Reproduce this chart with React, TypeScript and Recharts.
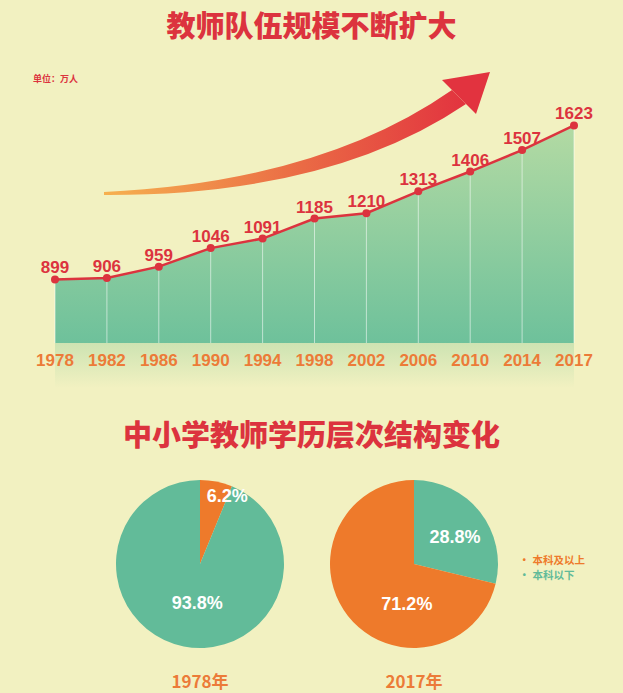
import { AreaChart, Area, XAxis, YAxis, LabelList, PieChart, Pie, Cell, Legend } from "recharts";

const years = ["1978", "1982", "1986", "1990", "1994", "1998", "2002", "2006", "2010", "2014", "2017"];
const teachers = [899, 906, 959, 1046, 1091, 1185, 1210, 1313, 1406, 1507, 1623];

const eduLevels = ["本科及以上", "本科以下"];
const share1978 = [6.2, 93.8];
const share2017 = [71.2, 28.8];

const areaData = years.map((y, i) => ({ year: y, value: teachers[i] }));
const pie1978 = eduLevels.map((name, i) => ({ name, value: share1978[i] }));
// 2017 pie starts with the green slice at 12 o'clock
const pie2017 = [1, 0].map((i) => ({ name: eduLevels[i], value: share2017[i] }));

const BG = "#f2f1c1";
const RED = "#dc333e";
const ORANGE = "#ee7a2b";
const GREEN = "#62bb99";
const LEVEL_COLORS: Record<string, string> = { 本科及以上: ORANGE, 本科以下: GREEN };

const LATIN = "'Liberation Sans', Arial, sans-serif";
const CJK = "'Noto Sans CJK SC', sans-serif";

const CHART_W = 623;
const CHART_H = 400;
const MARGIN = { top: 109, right: 49, bottom: 27, left: 55 };
const PLOT_BOTTOM = CHART_H - MARGIN.bottom - 30;

const YearTick = ({ x, y, payload }: any) => (
  <text x={x} y={y + 23} textAnchor="middle" fill="#ec7b38" fontSize={17} fontWeight="bold" fontFamily={LATIN}>
    {payload.value}
  </text>
);

const Dot = ({ cx, cy, index }: any) => (
  <g key={`dot-${index}`}>
    <line x1={cx} y1={cy} x2={cx} y2={PLOT_BOTTOM} stroke="#ffffff" strokeOpacity={0.55} strokeWidth={1} />
    <circle cx={cx} cy={cy} r={4} fill={RED} />
  </g>
);

// polar placement of each pie label (degrees, px from centre)
const labelPos1978 = [
  { a: 68, r: 73 },
  { a: -94, r: 39 },
];
const labelPos2017 = [
  { a: 33, r: 49 },
  { a: -100, r: 41 },
];

const makeLabel = (pos: { a: number; r: number }[]) => (props: any) => {
  const p = pos[props.index];
  const rad = (p.a * Math.PI) / 180;
  const x = props.cx + p.r * Math.cos(rad);
  const y = props.cy - p.r * Math.sin(rad);
  return (
    <text
      key={`lbl-${props.index}`}
      x={x}
      y={y}
      textAnchor="middle"
      dominantBaseline="central"
      fill="#ffffff"
      fontSize={18}
      fontWeight="bold"
      fontFamily={LATIN}
    >
      {`${props.value}%`}
    </text>
  );
};

const LegendContent = () => (
  <div style={{ fontFamily: CJK, fontWeight: 700, fontSize: 10.5, lineHeight: "15px" }}>
    {eduLevels.map((name) => (
      <div key={name} style={{ color: LEVEL_COLORS[name] }}>
        <span style={{ marginRight: 3 }}>•</span>
        {name}
      </div>
    ))}
  </div>
);

export default function App() {
  return (
    <div style={{ position: "absolute", left: 0, top: 0, width: 623, height: 693, background: BG, overflow: "hidden" }}>
      <div
        style={{
          position: "absolute",
          top: 4,
          width: "100%",
          textAlign: "center",
          color: RED,
          fontFamily: CJK,
          fontWeight: 900,
          fontSize: 29,
          lineHeight: "40px",
        }}
      >
        教师队伍规模不断扩大
      </div>
      <div style={{ position: "absolute", left: 33, top: 72, color: RED, fontFamily: CJK, fontWeight: 700, fontSize: 9 }}>
        单位：万人
      </div>

      {/* faded reflection under the area */}
      <div
        style={{
          position: "absolute",
          left: 55,
          top: 343,
          width: 519,
          height: 45,
          background: "linear-gradient(to bottom, rgba(160,210,160,0.45), rgba(160,210,160,0))",
        }}
      />

      {/* growth arrow */}
      <svg width={623} height={400} style={{ position: "absolute", left: 0, top: 0 }}>
        <defs>
          <linearGradient id="arrowGrad" x1="0" y1="0" x2="1" y2="0">
            <stop offset="0%" stopColor="#f6b14f" />
            <stop offset="55%" stopColor="#ea6a45" />
            <stop offset="100%" stopColor="#e2333f" />
          </linearGradient>
        </defs>
        <path d="M104,195 Q330,196 466,104 L452,90 Q320,182 104,192 Z" fill="url(#arrowGrad)" />
        <polygon points="442,80 490,72 476,114" fill="#e2333f" />
      </svg>

      <div style={{ position: "absolute", left: 0, top: 0 }}>
        <AreaChart width={CHART_W} height={CHART_H} data={areaData} margin={MARGIN}>
          <defs>
            <linearGradient id="areaGrad" x1="0" y1="0" x2="0" y2="1">
              <stop offset="0%" stopColor="#b3daa3" />
              <stop offset="100%" stopColor="#6ec19b" />
            </linearGradient>
          </defs>
          <XAxis
            dataKey="year"
            axisLine={false}
            tickLine={false}
            tickSize={0}
            tickMargin={0}
            height={30}
            interval={0}
            tick={<YearTick />}
          />
          <YAxis hide domain={[600, 1700]} />
          <Area
            type="linear"
            dataKey="value"
            stroke={RED}
            strokeWidth={2.5}
            fill="url(#areaGrad)"
            fillOpacity={1}
            dot={<Dot />}
            activeDot={false}
            isAnimationActive={false}
          >
            <LabelList
              dataKey="value"
              position="top"
              offset={6}
              fill={RED}
              fontSize={17}
              fontWeight="bold"
              fontFamily={LATIN}
            />
          </Area>
        </AreaChart>
      </div>

      <div
        style={{
          position: "absolute",
          top: 413,
          width: "100%",
          textAlign: "center",
          color: RED,
          fontFamily: CJK,
          fontWeight: 900,
          fontSize: 29,
          lineHeight: "40px",
        }}
      >
        中小学教师学历层次结构变化
      </div>

      <div style={{ position: "absolute", left: 0, top: 400 }}>
        <PieChart width={623} height={293} margin={{ top: 0, right: 0, bottom: 0, left: 0 }}>
          <Pie
            data={pie1978}
            dataKey="value"
            nameKey="name"
            cx={200}
            cy={164}
            outerRadius={84}
            startAngle={90}
            endAngle={-270}
            stroke="none"
            labelLine={false}
            label={makeLabel(labelPos1978)}
            isAnimationActive={false}
          >
            {pie1978.map((d) => (
              <Cell key={d.name} fill={LEVEL_COLORS[d.name]} />
            ))}
          </Pie>
          <Pie
            data={pie2017}
            dataKey="value"
            nameKey="name"
            cx={414}
            cy={164}
            outerRadius={84}
            startAngle={90}
            endAngle={-270}
            stroke="none"
            labelLine={false}
            label={makeLabel(labelPos2017)}
            isAnimationActive={false}
          >
            {pie2017.map((d) => (
              <Cell key={d.name} fill={LEVEL_COLORS[d.name]} />
            ))}
          </Pie>
          <Legend
            content={<LegendContent />}
            wrapperStyle={{ position: "absolute", left: 519, top: 152, width: 90 }}
          />
        </PieChart>
      </div>

      {["1978年", "2017年"].map((t, i) => (
        <div
          key={t}
          style={{
            position: "absolute",
            left: i === 0 ? 150 : 364,
            top: 669,
            width: 100,
            textAlign: "center",
            color: "#ec7b38",
            fontFamily: CJK,
            fontWeight: 700,
            fontSize: 17,
            lineHeight: "24px",
          }}
        >
          {t}
        </div>
      ))}
    </div>
  );
}
